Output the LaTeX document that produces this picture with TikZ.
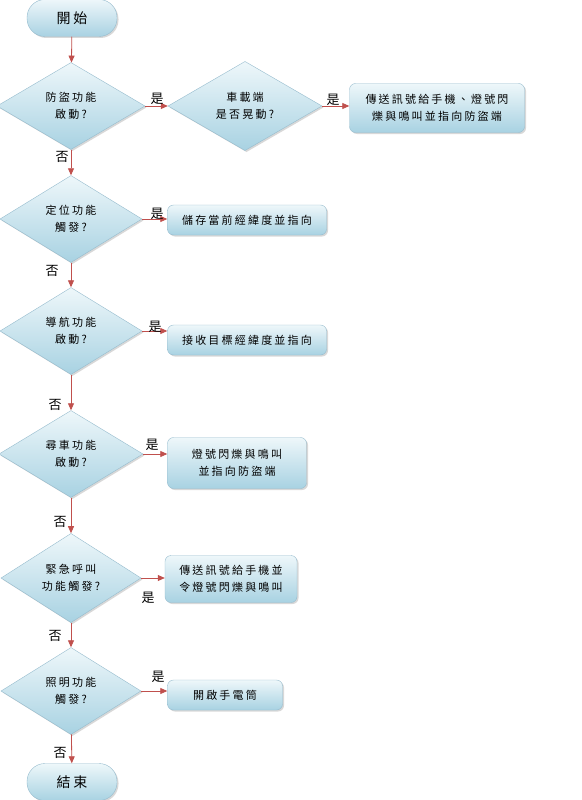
\documentclass[tikz,border=0pt]{standalone}
\usepackage{fontspec}
\newfontfamily\cjk[LetterSpace=20]{Noto Sans CJK TC}
\definecolor{flowred}{RGB}{192, 80, 77}
\definecolor{boxtop}{RGB}{238, 247, 250}
\definecolor{boxbottom}{RGB}{168, 210, 226}
\definecolor{edgeblue}{RGB}{150, 188, 206}
\usetikzlibrary{shapes.geometric, arrows.meta, shadows}

\begin{document}
\begin{tikzpicture}[x=1pt, y=-1pt,
  fillbox/.style={draw=edgeblue, top color=boxtop, bottom color=boxbottom, drop shadow={shadow xshift=1.5pt, shadow yshift=-1.5pt, opacity=0.3}, align=center, font=\cjk\fontsize{11}{17}\selectfont},
  decision/.style={fillbox, diamond, minimum width=#1, minimum height=87pt, inner sep=1pt},
  process/.style={fillbox, rounded corners=6pt, inner sep=2pt},
  terminal/.style={fillbox, rounded corners=18pt, minimum width=90pt, minimum height=37pt, font=\cjk\fontsize{14}{16}\selectfont},
  yesno/.style={font=\cjk\fontsize{13}{15}\selectfont, inner sep=0pt},
  flow/.style={draw=flowred, line width=0.8pt, -{Triangle[length=7pt, width=6pt]}}]

  \useasboundingbox (0, 0) rectangle (581, 800);
  \fill[white] (0, 0) rectangle (581, 800);

  % Start
  \node[terminal] (start) at (72, 18) {開始};

  % Anti-theft
  \node[decision=148pt] (theft) at (71, 106) {防盜功能\\啟動?};
  \node[decision=154pt] (shake) at (245, 106) {車載端\\是否晃動?};
  \node[process, minimum width=175pt, minimum height=49pt] (alarm) at (437, 108) {傳送訊號給手機、燈號閃\\爍與鳴叫並指向防盜端};

  % Locate
  \node[decision=142pt] (locate) at (71, 219) {定位功能\\觸發?};
  \node[process, minimum width=159pt, minimum height=30pt] (store) at (247, 220) {儲存當前經緯度並指向};

  % Navigate
  \node[decision=142pt] (navi) at (71, 331) {導航功能\\啟動?};
  \node[process, minimum width=159pt, minimum height=30pt] (target) at (247, 340) {接收目標經緯度並指向};

  % Find car
  \node[decision=144pt] (find) at (71, 454) {尋車功能\\啟動?};
  \node[process, minimum width=139pt, minimum height=51pt] (blink) at (237, 463) {燈號閃爍與鳴叫\\並指向防盜端};

  % Emergency call
  \node[decision=140pt] (sos) at (71, 578) {緊急呼叫\\功能觸發?};
  \node[process, minimum width=132pt, minimum height=47pt] (notify) at (231, 579) {傳送訊號給手機並\\令燈號閃爍與鳴叫};

  % Light
  \node[decision=140pt] (light) at (71, 691) {照明功能\\觸發?};
  \node[process, minimum width=115pt, minimum height=30pt] (torch) at (225, 695) {開啟手電筒};

  % End
  \node[terminal] (finish) at (72, 782) {結束};

  % Connectors
  \draw[flow] (start) -- (theft);
  \draw[flow] (theft.east) -- (shake.west);
  \draw[flow] (shake.east) -- (shake.east -| alarm.west);
  \draw[flow] (theft) -- (locate);
  \draw[flow] (locate.east) -- (locate.east -| store.west);
  \draw[flow] (locate) -- (navi);
  \draw[flow] (navi.east) -- (navi.east -| target.west);
  \draw[flow] (navi) -- (find);
  \draw[flow] (find.east) -- (find.east -| blink.west);
  \draw[flow] (find) -- (sos);
  \draw[flow] (sos.east) -- (sos.east -| notify.west);
  \draw[flow] (sos) -- (light);
  \draw[flow] (light.east) -- (light.east -| torch.west);
  \draw[flow] (light) -- (finish);

  % Labels
  \node[yesno] (yes1) at (157, 99) {是};
  \node[yesno] (yes2) at (333, 100) {是};
  \node[yesno] (no1) at (62, 157) {否};
  \node[yesno] (yes3) at (157, 214) {是};
  \node[yesno] (no2) at (52, 271) {否};
  \node[yesno] (yes4) at (155, 327) {是};
  \node[yesno] (no3) at (55, 405) {否};
  \node[yesno] (yes5) at (152, 445) {是};
  \node[yesno] (no4) at (60, 522) {否};
  \node[yesno] (yes6) at (148, 598) {是};
  \node[yesno] (no5) at (55, 636) {否};
  \node[yesno] (yes7) at (158, 677) {是};
  \node[yesno] (no6) at (60, 753) {否};
\end{tikzpicture}
\end{document}
